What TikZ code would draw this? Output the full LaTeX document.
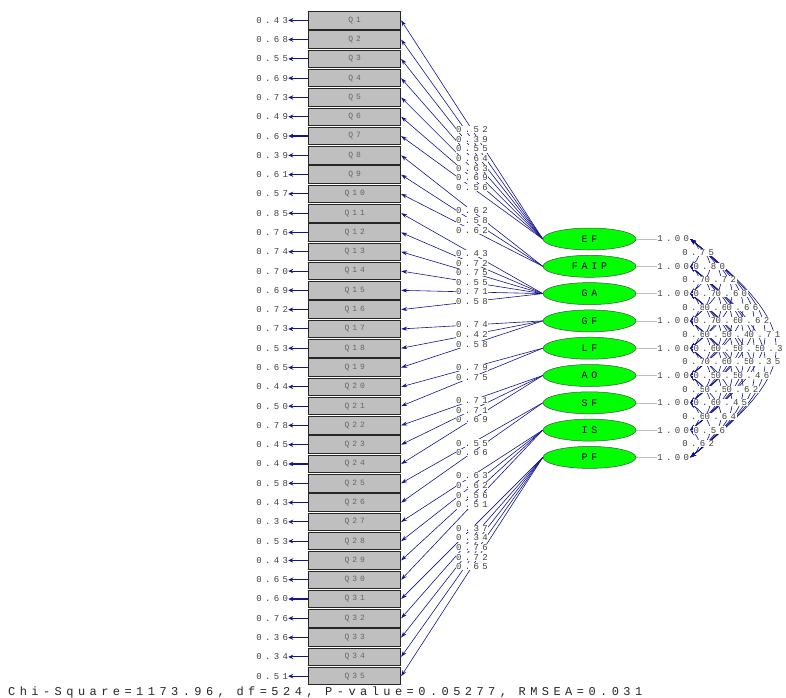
\documentclass[tikz,border=0pt]{standalone}
\usepackage{fontspec}
\usepackage{tikz}
\usetikzlibrary{shapes.geometric,arrows.meta}
\newfontfamily\lisrel[LetterSpace=37]{Liberation Mono}
\definecolor{navy}{RGB}{20,20,140}
\newcommand{\estfont}{\lisrel\fontsize{9}{10}\selectfont}
\tikzset{
  >={Stealth[length=6pt,width=4pt]},
  obs/.style={draw=black!85, line width=0.9pt, fill=gray!50, minimum width=92pt,
    minimum height=17.5pt, inner sep=0pt, text=black!60,
    font=\lisrel\fontsize{8}{8}\selectfont},
  latent/.style={ellipse, draw=black!70, line width=0.5pt, fill=green,
    minimum width=93pt, minimum height=22pt, inner sep=0pt,
    font=\lisrel\fontsize{10}{10}\selectfont},
  est/.style={font=\estfont, text=black!75, inner sep=0pt},
  estbox/.style={est, fill=white, inner sep=0.6pt},
  load/.style={->, navy, line width=0.6pt},
  err/.style={->, navy, line width=1.1pt, >={Stealth[length=5pt,width=4.5pt]}},
  cov/.style={<->, navy, line width=0.6pt},
  varline/.style={draw=black!25, line width=0.6pt},
}
% item / factor / loading
\def\loadlist{EF/1/0.52, EF/2/0.39, EF/3/0.55, EF/4/0.64, EF/5/0.63, EF/6/0.69, EF/7/0.56,
  FAIP/8/0.62, FAIP/9/0.58, FAIP/10/0.62,
  GA/11/0.43, GA/12/0.72, GA/13/0.75, GA/14/0.55, GA/15/0.71, GA/16/0.58,
  GF/17/0.74, GF/18/0.42, GF/19/0.58, LF/20/0.79, LF/21/0.75,
  AO/22/0.71, AO/23/0.71, AO/24/0.69, SF/25/0.55, SF/26/0.66,
  IS/27/0.63, IS/28/0.62, IS/29/0.56, IS/30/0.51,
  PF/31/0.37, PF/32/0.34, PF/33/0.76, PF/34/0.72, PF/35/0.65}
% factor pairs, nearest first
\def\covlist{1/2/0.75, 2/3/0.78, 3/4/0.81, 4/5/0.69, 5/6/0.72, 6/7/0.58, 7/8/0.66, 8/9/0.62,
  1/3/0.80, 2/4/0.70, 3/5/0.74, 4/6/0.61, 5/7/0.57, 6/8/0.68, 7/9/0.56,
  1/4/0.72, 2/5/0.66, 3/6/0.59, 4/7/0.63, 5/8/0.54, 6/9/0.64,
  1/5/0.60, 2/6/0.65, 3/7/0.52, 4/8/0.58, 5/9/0.45,
  1/6/0.66, 2/7/0.49, 3/8/0.55, 4/9/0.62,
  1/7/0.62, 2/8/0.51, 3/9/0.46,
  1/8/0.71, 2/9/0.35,
  1/9/0.38}

\begin{document}
\begin{tikzpicture}[x=1pt, y=-1pt]
  \useasboundingbox (0,0) rectangle (786,697);

  % items with error variances
  \foreach \e [count=\i] in {0.43,0.68,0.55,0.69,0.73,0.49,0.69,0.39,0.61,0.57,
      0.85,0.76,0.74,0.70,0.69,0.72,0.73,0.53,0.65,0.44,0.50,0.78,0.45,0.46,
      0.58,0.43,0.36,0.53,0.43,0.65,0.60,0.76,0.36,0.34,0.51} {
    \node[obs] (q\i) at (354.7, {20.3+19.29*(\i-1)}) {Q\i};
    \node[est, anchor=east] (e\i) at ([xshift=-20pt]q\i.west) {\e};
    \draw[err] (q\i) -- (e\i);
  }

  % factors
  \foreach \f [count=\k] in {EF,FAIP,GA,GF,LF,AO,SF,IS,PF} {
    \node[latent] (\f) at (589.5, {239+27.3*(\k-1)}) {\f};
    \node[est, anchor=west] (v\k) at ([xshift=21pt]\f.east) {1.00};
    \draw[varline] (\f) -- (v\k);
    \coordinate (c\k) at ([xshift=1pt]v\k.east);
  }

  % loadings
  \foreach \f/\q/\v in \loadlist
    \draw[load] (\f.west) -- (q\q.east);
  \foreach \f/\q/\v in \loadlist
    \path (\f.west) -- node[estbox] {\v} (q\q.east);

  % correlations
  \foreach \a/\b/\v in \covlist {
    \pgfmathsetmacro\cx{14.7*(\b-\a)-4}
    \draw[cov] (c\a) .. controls +(\cx,{0.8*\cx}) and +(\cx,{-0.8*\cx}) .. (c\b);
  }
  \foreach \a/\b/\v in \covlist {
    \pgfmathsetmacro\cx{14.7*(\b-\a)-4}
    \path (c\a) .. controls +(\cx,{0.8*\cx}) and +(\cx,{-0.8*\cx}) .. (c\b)
      node[estbox, pos=0.5] {\v};
  }

  \node[anchor=base west, inner sep=0pt, text=black!85,
    font=\lisrel\fontsize{12}{12}\selectfont] (stats) at (8,695.5)
    {Chi-Square=1173.96, df=524, P-value=0.05277, RMSEA=0.031};
\end{tikzpicture}
\end{document}
